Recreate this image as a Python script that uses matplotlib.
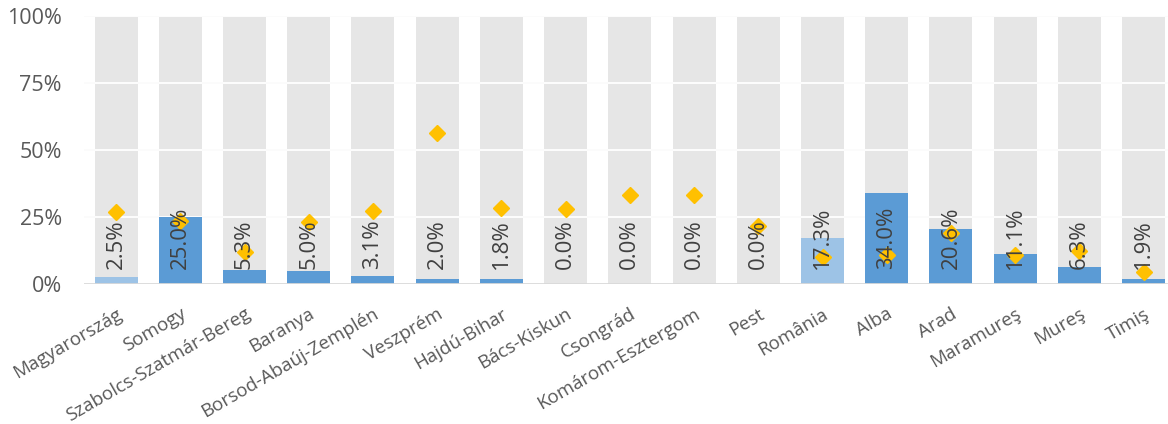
import numpy as np
import matplotlib
matplotlib.use("Agg")
import matplotlib.pyplot as plt
from matplotlib.ticker import PercentFormatter

plt.rcParams['font.family'] = ['Open Sans', 'DejaVu Sans']

# categories and values (percent)
regions = ["Magyarország", "Somogy", "Szabolcs-Szatmár-Bereg", "Baranya",
           "Borsod-Abaúj-Zemplén", "Veszprém", "Hajdú-Bihar", "Bács-Kiskun",
           "Csongrád", "Komárom-Esztergom", "Pest", "România", "Alba",
           "Arad", "Maramureş", "Mureş", "Timiş"]
share = [2.5, 25.0, 5.3, 5.0, 3.1, 2.0, 1.8, 0.0, 0.0, 0.0, 0.0,
         17.3, 34.0, 20.6, 11.1, 6.3, 1.9]
marker_vals = [26.7, 23.5, 12.0, 23.3, 27.3, 56.5, 28.5, 27.8, 33.3, 33.3,
               21.7, 10.2, 10.9, 19.2, 10.9, 12.4, 4.3]
totals = ["Magyarország", "România"]

light_blue = "#9dc3e6"
blue = "#5b9bd5"
grey = "#e6e6e6"

x = np.arange(len(regions))
colors = [light_blue if r in totals else blue for r in regions]

fig = plt.figure(figsize=(11.68, 4.24), dpi=100)
ax = fig.add_axes([84/1168, 140/424, 1 - 84/1168, 268/424])

# background 100% bars
ax.bar(x, [100]*len(x), width=0.67, color=grey, zorder=1)
# grid: grey in the gaps, white over the background bars
for yv in [25, 50, 75, 100]:
    ax.axhline(yv, color="#d9d9d9", lw=1.3, zorder=0)
    ax.axhline(yv, color="white", lw=1.3, zorder=1.5)
ax.bar(x, share, width=0.67, color=colors, zorder=2)
ax.axhline(0, color="#d9d9d9", lw=2, zorder=5)

ax.plot(x, marker_vals, linestyle="none", marker="D", markersize=8,
        color="#ffc000", zorder=3)

for i, v in enumerate(share):
    ax.annotate(f"{v:.1f}%", xy=(i, 0), xytext=(0, 11), textcoords="offset points",
                rotation=90, ha="center", va="bottom", fontsize=16,
                color="#404040", zorder=4)

ax.set_xlim(-0.5, 16.38)
ax.set_ylim(0, 100)
ax.set_yticks([0, 25, 50, 75, 100])
ax.yaxis.set_major_formatter(PercentFormatter(decimals=0))
ax.set_xticks(x)
ax.set_xticklabels(regions, rotation=30, ha="right", rotation_mode="anchor")
ax.tick_params(axis="x", length=0, pad=15, labelsize=13.5, labelcolor="#595959")
ax.tick_params(axis="y", length=0, pad=16, labelsize=15.5, labelcolor="#595959")
for s in ax.spines.values():
    s.set_visible(False)

fig.savefig("out.png", dpi=100)
